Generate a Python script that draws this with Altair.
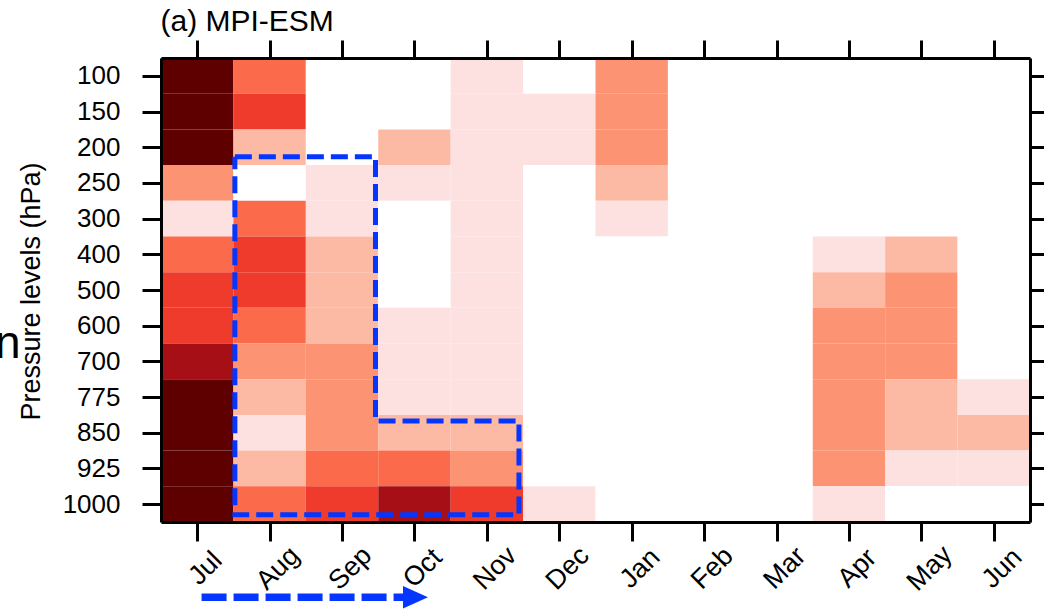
import json
import altair as alt
import pandas as pd

# ---------------- data ----------------
months = ["Jul", "Aug", "Sep", "Oct", "Nov", "Dec", "Jan", "Feb", "Mar", "Apr", "May", "Jun"]
levels = ["100", "150", "200", "250", "300", "400", "500", "600", "700", "775", "850", "925", "1000"]

# shading class of each cell (0 = white ... 8 = darkest), top (100 hPa) to bottom (1000 hPa)
jul = [8, 8, 8, 3, 1, 4, 5, 5, 7, 8, 8, 8, 8]
aug = [4, 5, 2, 0, 4, 5, 5, 4, 3, 2, 1, 2, 4]
sep = [0, 0, 0, 1, 1, 2, 2, 2, 3, 3, 3, 4, 5]
octo = [0, 0, 2, 1, 0, 0, 0, 1, 1, 1, 2, 4, 7]
nov = [1, 1, 1, 1, 1, 1, 1, 1, 1, 1, 2, 3, 5]
dec = [0, 1, 1, 0, 0, 0, 0, 0, 0, 0, 0, 0, 1]
jan = [3, 3, 3, 2, 1, 0, 0, 0, 0, 0, 0, 0, 0]
feb = [0, 0, 0, 0, 0, 0, 0, 0, 0, 0, 0, 0, 0]
mar = [0, 0, 0, 0, 0, 0, 0, 0, 0, 0, 0, 0, 0]
apr = [0, 0, 0, 0, 0, 1, 2, 3, 3, 3, 3, 3, 1]
may = [0, 0, 0, 0, 0, 2, 3, 3, 3, 2, 2, 1, 0]
jun = [0, 0, 0, 0, 0, 0, 0, 0, 0, 1, 2, 1, 0]
columns = [jul, aug, sep, octo, nov, dec, jan, feb, mar, apr, may, jun]

palette = ["#ffffff", "#fde0e0", "#fcbaa5", "#fc9373", "#fb6a4a",
           "#ef3b2c", "#cb181d", "#a50f15", "#5f0000"]

# dashed outline (in month-index / level-index units)
box_x = [1.02, 2.962, 2.962, 4.943, 4.943, 1.02, 1.02]
box_y = [2.765, 2.765, 10.17, 10.17, 12.80, 12.80, 2.765]

# dashed arrow under the month axis
arrow_x = [0.56, 3.37]
arrow_y = [15.11, 15.11]
head_x = [3.514]
head_y = [15.11]

title_text = "(a) MPI-ESM"
cut_letter = "n"

# ---------------- tables ----------------
cells = []
for j, col in enumerate(columns):
    for i, cls in enumerate(col):
        cells.append({"month": months[j], "level": levels[i],
                      "x": j, "x2": j + 1, "y": i, "y2": i + 1, "cls": cls})
cells = pd.DataFrame(cells)
box = pd.DataFrame({"x": box_x, "y": box_y, "i": list(range(len(box_x)))})
arrow = pd.DataFrame({"x": arrow_x, "y": arrow_y})
head = pd.DataFrame({"x": head_x, "y": head_y})

xticks = [j + 0.5 for j in range(len(months))]
yticks = [i + 0.5 for i in range(len(levels))]
xlab = json.dumps(months).replace('"', "'") + "[floor(datum.value)]"
ylab = json.dumps(levels).replace('"', "'") + "[floor(datum.value)]"

FONT = "Liberation Sans"
BLUE = "#0536ff"

xscale = alt.Scale(domain=[0, len(months)], nice=False, zero=False)
yscale = alt.Scale(domain=[0, len(levels)], nice=False, zero=False, reverse=True)

common_axis = dict(tickWidth=3, tickColor="black", domainColor="black", domainWidth=3,
                   grid=False, zindex=1, title=None)

x_bottom = alt.Axis(orient="bottom", values=xticks, labelExpr=xlab, labelAngle=-45,
                    labelAlign="center", labelBaseline="middle", labelPadding=27,
                    labelOffset=8, tickSize=19, labelFontSize=27, labelColor="black",
                    labelFont=FONT, labelOverlap=False, labelFlush=False, **common_axis)
x_top = alt.Axis(orient="top", values=xticks, labels=False, tickSize=18, **common_axis)
y_left = alt.Axis(orient="left", values=yticks, labelExpr=ylab, tickSize=19,
                  labelPadding=22, labelFontSize=26, labelColor="black", labelFont=FONT,
                  labelOverlap=False, labelFlush=False,
                  tickWidth=3, tickColor="black", domainColor="black", domainWidth=3,
                  grid=False, zindex=1,
                  title="Pressure levels (hPa)", titleFont=FONT, titleFontSize=27,
                  titleFontWeight="normal", titleColor="black", titleAngle=270,
                  titleAlign="center", titleBaseline="middle", titleX=-130, titleY=233)
y_right = alt.Axis(orient="right", values=yticks, labels=False, tickSize=18, **common_axis)

heat = alt.Chart(cells).mark_rect(strokeWidth=0).encode(
    x=alt.X("x:Q", scale=xscale, axis=x_bottom),
    x2="x2:Q",
    y=alt.Y("y:Q", scale=yscale, axis=y_left),
    y2="y2:Q",
    color=alt.Color("cls:O", scale=alt.Scale(domain=list(range(len(palette))), range=palette),
                    legend=None),
)

outline = alt.Chart(box).mark_line(color=BLUE, strokeWidth=5, strokeDash=[17, 7],
                                   strokeCap="butt", strokeJoin="miter").encode(
    x=alt.X("x:Q", scale=xscale, axis=x_top),
    y=alt.Y("y:Q", scale=yscale, axis=y_right),
    order="i:Q",
)

arrow_line = alt.Chart(arrow).mark_line(color=BLUE, strokeWidth=7.5, strokeDash=[25, 7],
                                        strokeCap="butt").encode(
    x=alt.X("x:Q", scale=xscale, axis=None),
    y=alt.Y("y:Q", scale=yscale, axis=None),
)

arrow_head = alt.Chart(head).mark_point(shape="M-1,-0.9L1,0L-1,0.9Z", size=625, filled=True,
                                        color=BLUE, opacity=1, strokeWidth=0).encode(
    x=alt.X("x:Q", scale=xscale, axis=None),
    y=alt.Y("y:Q", scale=yscale, axis=None),
)

title_mark = alt.Chart(pd.DataFrame({"t": [title_text]})).mark_text(
    fontSize=30, font=FONT, align="left", baseline="alphabetic", color="black"
).encode(text="t:N", x=alt.value(-0.5), y=alt.value(-27.3))

cut_mark = alt.Chart(pd.DataFrame({"t": [cut_letter]})).mark_text(
    fontSize=46, font=FONT, align="right", baseline="alphabetic", color="black"
).encode(text="t:N", x=alt.value(-140.5), y=alt.value(300))

chart = alt.layer(heat, outline, arrow_line, arrow_head, title_mark, cut_mark).resolve_axis(
    x="independent", y="independent"
).properties(
    width=869, height=464,
    padding={"left": 161, "top": 58, "right": 14, "bottom": 88},
    autosize=alt.AutoSizeParams(type="none"),
).configure_view(stroke=None).configure(font=FONT, background="white")

chart.save("out.html", embed_options={"renderer": "svg", "actions": False})
